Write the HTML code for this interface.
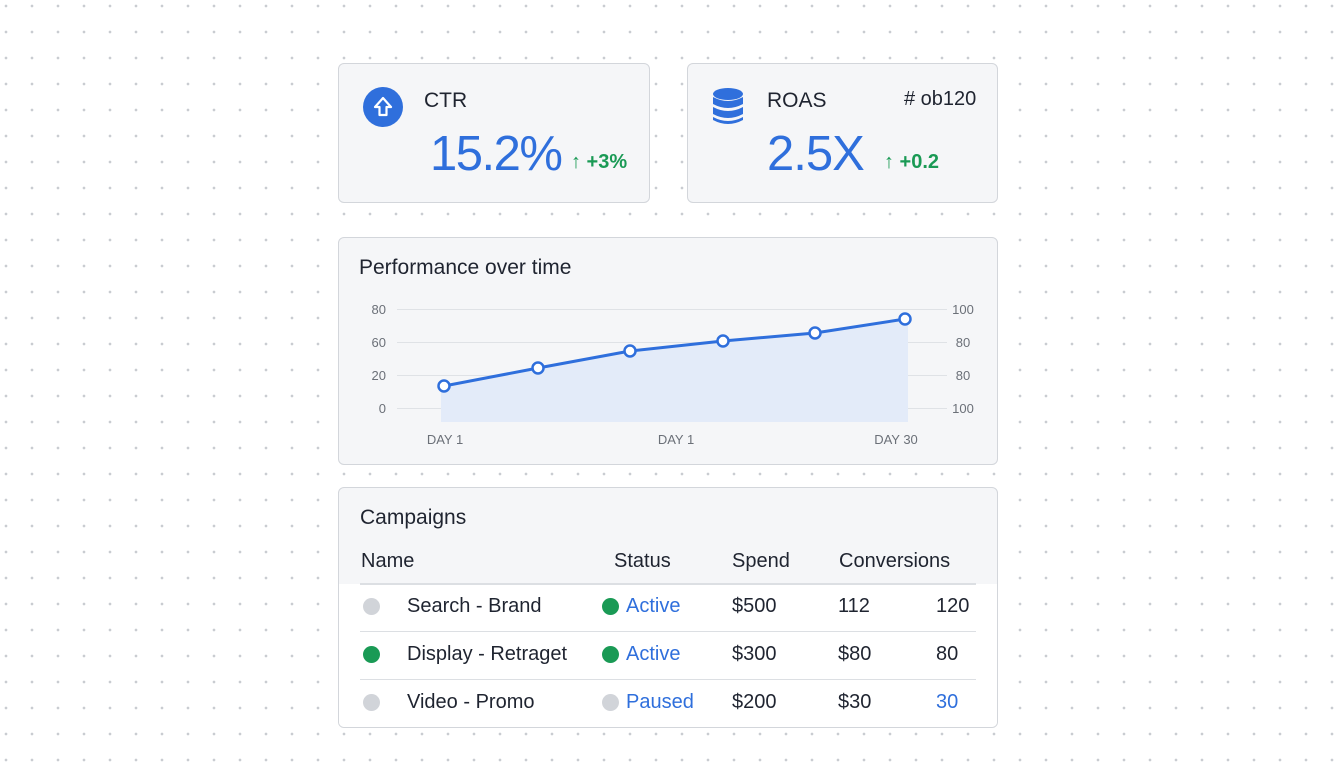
<!DOCTYPE html>
<html><head><meta charset="utf-8"><style>
body{margin:0;width:1344px;height:768px;background-color:#fff;background-image:radial-gradient(circle,#c9ccd1 1.1px,transparent 1.6px);background-size:26px 26px;background-position:-7px -7px;font-family:"Liberation Sans",sans-serif;position:relative;overflow:hidden;color:#1f2430}
.card{position:absolute;background:#f5f6f8;border:1.5px solid #d3d6db;border-radius:6px;box-sizing:border-box}
.a{position:absolute;white-space:nowrap}
</style></head><body>
<div class="card" style="left:338px;top:63px;width:312px;height:140px">
 <div class="a" style="left:24px;top:23px;width:40px;height:40px;border-radius:50%;background:#2f6fdc"></div>
 <svg class="a" style="left:32px;top:31px" width="24" height="24" viewBox="0 0 24 24"><path d="M12 3 L20 12 L15.5 12 L15.5 20 L8.5 20 L8.5 12 L4 12 Z" fill="none" stroke="#fff" stroke-width="2.2" stroke-linejoin="round"/></svg>
 <div class="a" style="left:85px;top:25px;font-size:21px">CTR</div>
 <div class="a" style="left:91px;top:62px;font-size:49px;color:#2f6fdc;letter-spacing:-1.5px">15.2%</div>
 <div class="a" style="left:232px;top:87px;font-size:20px;color:#1a9a55;font-weight:bold">↑ +3%</div>
</div>
<div class="card" style="left:687px;top:63px;width:311px;height:140px">
 <svg class="a" style="left:24px;top:23px" width="32" height="40" viewBox="0 0 32 40"><g fill="#2f6fdc"><ellipse cx="16" cy="7" rx="15" ry="6"/><path d="M1 10 Q16 18 31 10 V17 Q16 25 1 17Z"/><path d="M1 20 Q16 28 31 20 V27 Q16 35 1 27Z"/><path d="M1 30 Q16 38 31 30 V33 Q16 41 1 33Z"/></g></svg>
 <div class="a" style="left:79px;top:25px;font-size:21px">ROAS</div>
 <div class="a" style="left:216px;top:24px;font-size:20px"># ob120</div>
 <div class="a" style="left:79px;top:62px;font-size:49px;color:#2f6fdc;letter-spacing:-1px">2.5X</div>
 <div class="a" style="left:196px;top:87px;font-size:20px;color:#1a9a55;font-weight:bold">↑ +0.2</div>
</div>
<div class="card" style="left:338px;top:237px;width:660px;height:228px">
 <div class="a" style="left:20px;top:18px;font-size:21px">Performance over time</div>
</div>
<svg class="a" style="left:0;top:0" width="1344" height="768">
 <g stroke="#dfe2e6" stroke-width="1"><line x1="397" x2="947" y1="309.5" y2="309.5"/><line x1="397" x2="947" y1="342.5" y2="342.5"/><line x1="397" x2="947" y1="375.5" y2="375.5"/><line x1="397" x2="947" y1="408.5" y2="408.5"/></g>
 <path d="M441 386 L444 386 L538 368 L630 351 L723 341 L815 333 L905 319 L908 319 L908 422 L441 422Z" fill="#e3ebf9"/>
 <polyline points="444,386 538,368 630,351 723,341 815,333 905,319" fill="none" stroke="#2f6fdc" stroke-width="3"/>
 <g fill="#fff" stroke="#2f6fdc" stroke-width="2.5"><circle cx="444" cy="386" r="5.5"/><circle cx="538" cy="368" r="5.5"/><circle cx="630" cy="351" r="5.5"/><circle cx="723" cy="341" r="5.5"/><circle cx="815" cy="333" r="5.5"/><circle cx="905" cy="319" r="5.5"/></g>
 <g font-family="Liberation Sans" font-size="13" fill="#6b7078" text-anchor="end"><text x="386" y="314">80</text><text x="386" y="347">60</text><text x="386" y="380">20</text><text x="386" y="413">0</text></g>
 <g font-family="Liberation Sans" font-size="13" fill="#6b7078" text-anchor="middle"><text x="963" y="314">100</text><text x="963" y="347">80</text><text x="963" y="380">80</text><text x="963" y="413">100</text><text x="445" y="444">DAY 1</text><text x="676" y="444">DAY 1</text><text x="896" y="444">DAY 30</text></g>
</svg>
<div class="card" style="left:338px;top:487px;width:660px;height:241px;overflow:hidden">
 <div class="a" style="left:0;top:96px;width:660px;height:150px;background:#fff"></div>
 <div class="a" style="left:21px;top:18px;font-size:21px">Campaigns</div>
 <div class="a" style="left:22px;top:62px;font-size:20px">Name</div>
 <div class="a" style="left:275px;top:62px;font-size:20px">Status</div>
 <div class="a" style="left:393px;top:62px;font-size:20px">Spend</div>
 <div class="a" style="left:500px;top:62px;font-size:20px">Conversions</div>
 <div class="a" style="left:21px;top:95px;width:616px;height:1.5px;background:#dcdfe3"></div>
 <div class="a" style="left:21px;top:143px;width:616px;height:1px;background:#dcdfe3"></div>
 <div class="a" style="left:21px;top:191px;width:616px;height:1px;background:#dcdfe3"></div>
</div>
<div style="position:absolute;left:0;top:0;font-size:20px">
 <div class="a" style="left:363px;top:598px;width:17px;height:17px;border-radius:50%;background:#d1d4d9"></div>
 <div class="a" style="left:407px;top:595px">Search - Brand</div>
 <div class="a" style="left:602px;top:598px;width:17px;height:17px;border-radius:50%;background:#1a9a55"></div>
 <div class="a" style="left:626px;top:595px;color:#2f6fdc">Active</div>
 <div class="a" style="left:732px;top:595px">$500</div>
 <div class="a" style="left:838px;top:595px">112</div>
 <div class="a" style="left:936px;top:595px">120</div>

 <div class="a" style="left:363px;top:646px;width:17px;height:17px;border-radius:50%;background:#1a9a55"></div>
 <div class="a" style="left:407px;top:643px">Display - Retraget</div>
 <div class="a" style="left:602px;top:646px;width:17px;height:17px;border-radius:50%;background:#1a9a55"></div>
 <div class="a" style="left:626px;top:643px;color:#2f6fdc">Active</div>
 <div class="a" style="left:732px;top:643px">$300</div>
 <div class="a" style="left:838px;top:643px">$80</div>
 <div class="a" style="left:936px;top:643px">80</div>

 <div class="a" style="left:363px;top:694px;width:17px;height:17px;border-radius:50%;background:#d1d4d9"></div>
 <div class="a" style="left:407px;top:691px">Video - Promo</div>
 <div class="a" style="left:602px;top:694px;width:17px;height:17px;border-radius:50%;background:#d1d4d9"></div>
 <div class="a" style="left:626px;top:691px;color:#2f6fdc">Paused</div>
 <div class="a" style="left:732px;top:691px">$200</div>
 <div class="a" style="left:838px;top:691px">$30</div>
 <div class="a" style="left:936px;top:691px;color:#2f6fdc">30</div>
</div>
</body></html>
